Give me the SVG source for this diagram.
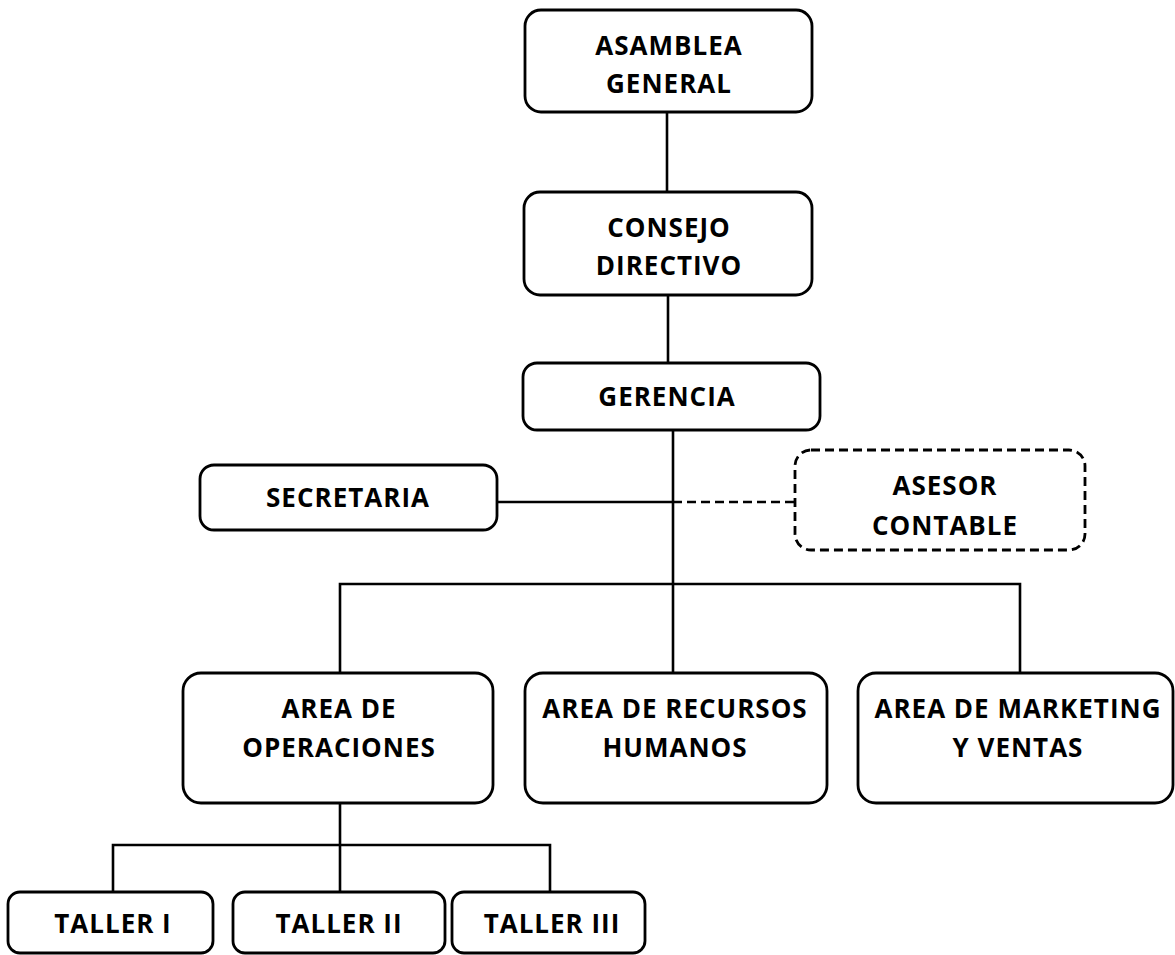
<svg xmlns="http://www.w3.org/2000/svg" width="1175" height="955" viewBox="0 0 1175 955">
  <style>
    .box { fill: #ffffff; stroke: #000000; stroke-width: 2.8; }
    .dashed { stroke-dasharray: 9 5; }
    .lbl { font-family: "Open Sans", "Liberation Sans", sans-serif; font-weight: 700; font-size: 26px; letter-spacing: 1px; fill: #000000; text-anchor: middle; }
    .wire { fill: none; stroke: #000000; stroke-width: 2.6; }
  </style>
  <rect width="1175" height="955" fill="#ffffff"/>

  <g id="connectors">
    <line class="wire" x1="667" y1="112" x2="667" y2="192"/>
    <line class="wire" x1="668" y1="295" x2="668" y2="363"/>
    <line class="wire" x1="673" y1="430" x2="673" y2="673"/>
    <line class="wire" x1="497" y1="502" x2="673" y2="502"/>
    <line class="wire dashed" x1="673" y1="502" x2="795" y2="502"/>
    <polyline class="wire" points="340,673 340,584 1020,584 1020,673"/>
    <line class="wire" x1="340" y1="803" x2="340" y2="892"/>
    <polyline class="wire" points="113,892 113,845 550,845 550,892"/>
  </g>

  <g id="asamblea">
    <rect class="box" x="525" y="10" width="287" height="102" rx="16"/>
    <text class="lbl" x="669" y="55">ASAMBLEA</text>
    <text class="lbl" x="669" y="93">GENERAL</text>
  </g>
  <g id="consejo">
    <rect class="box" x="524" y="192" width="288" height="103" rx="16"/>
    <text class="lbl" x="669" y="237">CONSEJO</text>
    <text class="lbl" x="669" y="275">DIRECTIVO</text>
  </g>
  <g id="gerencia">
    <rect class="box" x="523" y="363" width="297" height="67" rx="14"/>
    <text class="lbl" x="667" y="406">GERENCIA</text>
  </g>
  <g id="secretaria">
    <rect class="box" x="200" y="465" width="297" height="65" rx="14"/>
    <text class="lbl" x="348" y="507">SECRETARIA</text>
  </g>
  <g id="asesor">
    <rect class="box dashed" x="795" y="450" width="290" height="100" rx="16"/>
    <text class="lbl" x="945" y="495">ASESOR</text>
    <text class="lbl" x="945" y="535">CONTABLE</text>
  </g>
  <g id="operaciones">
    <rect class="box" x="183" y="673" width="310" height="130" rx="18"/>
    <text class="lbl" x="339" y="718">AREA DE</text>
    <text class="lbl" x="339" y="757">OPERACIONES</text>
  </g>
  <g id="rrhh">
    <rect class="box" x="525" y="673" width="302" height="130" rx="18"/>
    <text class="lbl" x="675" y="718">AREA DE RECURSOS</text>
    <text class="lbl" x="675" y="757">HUMANOS</text>
  </g>
  <g id="marketing">
    <rect class="box" x="858" y="673" width="315" height="130" rx="18"/>
    <text class="lbl" x="1018" y="718">AREA DE MARKETING</text>
    <text class="lbl" x="1018" y="757">Y VENTAS</text>
  </g>
  <g id="taller1">
    <rect class="box" x="8" y="892" width="205" height="61" rx="12"/>
    <text class="lbl" x="113" y="933">TALLER I</text>
  </g>
  <g id="taller2">
    <rect class="box" x="233" y="892" width="212" height="61" rx="12"/>
    <text class="lbl" x="339" y="933">TALLER II</text>
  </g>
  <g id="taller3">
    <rect class="box" x="452" y="892" width="193" height="61" rx="12"/>
    <text class="lbl" x="552" y="933">TALLER III</text>
  </g>
</svg>
